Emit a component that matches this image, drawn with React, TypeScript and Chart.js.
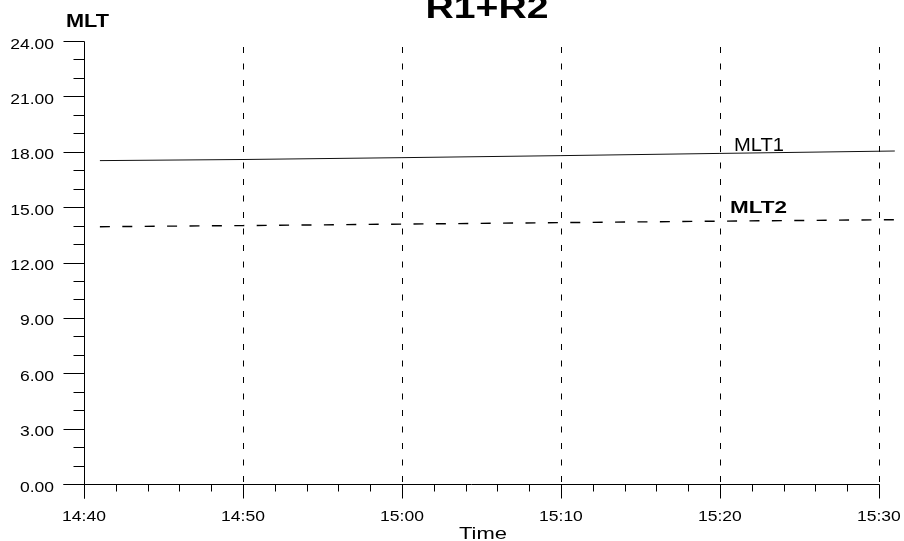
import React, { useEffect, useRef } from "react";
import { Chart, registerables } from "chart.js";

Chart.register(...registerables);

// ---- data ----
const START = "14:40";
const TIMES = ["14:41", "14:50", "15:00", "15:10", "15:20", "15:31"];
const MLT1 = [17.52, 17.58, 17.68, 17.79, 17.91, 18.04];
const MLT2 = [13.94, 14.0, 14.08, 14.16, 14.24, 14.32];
const X_TICKS = ["14:40", "14:50", "15:00", "15:10", "15:20", "15:30"];
const Y_TICKS = [0, 3, 6, 9, 12, 15, 18, 21, 24];
const TITLE = "R1+R2";
const Y_TITLE = "MLT";
const X_TITLE = "Time";

const toMin = (t: string) => {
  const [h, m] = t.split(":").map(Number);
  const [h0, m0] = START.split(":").map(Number);
  return h * 60 + m - (h0 * 60 + m0);
};

const FONT = "'Liberation Sans', Arial, sans-serif";

function drawText(
  ctx: CanvasRenderingContext2D,
  text: string,
  x: number,
  y: number,
  font: string,
  opts: { width?: number; scale?: number; align?: "left" | "center" | "right" }
) {
  ctx.save();
  ctx.font = font;
  ctx.fillStyle = "#000";
  ctx.textBaseline = "alphabetic";
  const w = ctx.measureText(text).width;
  const sx = opts.width ? opts.width / w : opts.scale ?? 1;
  const tw = w * sx;
  let left = x;
  if (opts.align === "center") left = x - tw / 2;
  else if (opts.align === "right") left = x - tw;
  ctx.translate(left, y);
  ctx.scale(sx, 1);
  ctx.textAlign = "left";
  ctx.fillText(text, 0, 0);
  ctx.restore();
}

const decorPlugin = {
  id: "decor",
  beforeDatasetsDraw(chart: any) {
    const ctx: CanvasRenderingContext2D = chart.ctx;
    const xs = chart.scales.x;
    const ys = chart.scales.y;
    const top = ys.getPixelForValue(24);
    const bottom = ys.getPixelForValue(0);
    ctx.save();
    ctx.strokeStyle = "#000";
    ctx.lineWidth = 1;
    ctx.setLineDash([6, 10.5]);
    ctx.lineDashOffset = 10.5;
    X_TICKS.forEach((t) => {
      const v = toMin(t);
      if (v === 0) return;
      const px = Math.round(xs.getPixelForValue(v)) + 0.5;
      ctx.beginPath();
      ctx.moveTo(px, top);
      ctx.lineTo(px, bottom);
      ctx.stroke();
    });
    ctx.restore();
  },
  afterDatasetsDraw(chart: any) {
    const ctx: CanvasRenderingContext2D = chart.ctx;
    const xs = chart.scales.x;
    const ys = chart.scales.y;
    const x0 = Math.round(xs.getPixelForValue(0)) + 0.5;
    const y0 = Math.round(ys.getPixelForValue(0)) + 0.5;
    const yTop = Math.round(ys.getPixelForValue(24)) + 0.5;
    const xEnd = Math.round(xs.getPixelForValue(toMin(X_TICKS[X_TICKS.length - 1]))) + 0.5;
    ctx.save();
    ctx.strokeStyle = "#000";
    ctx.lineWidth = 1;
    ctx.setLineDash([]);
    // axes
    ctx.beginPath();
    ctx.moveTo(x0, yTop);
    ctx.lineTo(x0, y0 + 14);
    ctx.moveTo(x0 - 21, y0);
    ctx.lineTo(xEnd, y0);
    ctx.stroke();
    // y ticks
    const yMin = Y_TICKS[0];
    const yMax = Y_TICKS[Y_TICKS.length - 1];
    ctx.beginPath();
    for (let v = yMin; v <= yMax; v += 1) {
      const py = Math.round(ys.getPixelForValue(v)) + 0.5;
      const major = Y_TICKS.includes(v);
      ctx.moveTo(x0 - (major ? 21 : 11), py);
      ctx.lineTo(x0, py);
    }
    // x ticks
    const xMax = toMin(X_TICKS[X_TICKS.length - 1]);
    for (let v = 0; v <= xMax; v += 2) {
      const px = Math.round(xs.getPixelForValue(v)) + 0.5;
      const major = X_TICKS.some((t) => toMin(t) === v);
      ctx.moveTo(px, y0);
      ctx.lineTo(px, y0 + (major ? 14 : 7));
    }
    ctx.stroke();
    ctx.restore();

    const tickFont = `14px ${FONT}`;
    Y_TICKS.forEach((v) => {
      const py = ys.getPixelForValue(v);
      drawText(ctx, v.toFixed(2), 54, py + 7.5, tickFont, { scale: 1.25, align: "right" });
    });
    X_TICKS.forEach((t) => {
      const px = xs.getPixelForValue(toMin(t));
      drawText(ctx, t, px, 521, tickFont, { scale: 1.25, align: "center" });
    });

    drawText(ctx, TITLE, 487, 18, `bold 31px ${FONT}`, { width: 123, align: "center" });
    drawText(ctx, Y_TITLE, 66, 27, `bold 18px ${FONT}`, { width: 43, align: "left" });
    drawText(ctx, X_TITLE, 483, 539, `17px ${FONT}`, { width: 48, align: "center" });
    drawText(ctx, "MLT1", 734, 151, `18px ${FONT}`, { width: 50, align: "left" });
    drawText(ctx, "MLT2", 730, 213, `bold 17px ${FONT}`, { width: 57, align: "left" });
  },
};

export default function App() {
  const ref = useRef<HTMLCanvasElement>(null);
  useEffect(() => {
    if (!ref.current) return;
    const chart = new Chart(ref.current, {
      type: "line",
      data: {
        datasets: [
          {
            label: "MLT1",
            data: TIMES.map((t, i) => ({ x: toMin(t), y: MLT1[i] })),
            borderColor: "#111",
            borderWidth: 1,
            pointRadius: 0,
            fill: false,
          },
          {
            label: "MLT2",
            data: TIMES.map((t, i) => ({ x: toMin(t), y: MLT2[i] })),
            borderColor: "#000",
            borderWidth: 1.4,
            borderDash: [10, 12.4],
            pointRadius: 0,
            fill: false,
          },
        ],
      },
      options: {
        responsive: false,
        animation: false,
        layout: { padding: { left: 84, top: 41, right: 6, bottom: 57 } },
        plugins: { legend: { display: false }, tooltip: { enabled: false }, title: { display: false } },
        scales: {
          x: { type: "linear", min: 0, max: 51.2, display: false },
          y: { type: "linear", min: 0, max: 24, display: false },
        },
      },
      plugins: [decorPlugin],
    });
    return () => chart.destroy();
  }, []);
  return (
    <div style={{ position: "fixed", left: 0, top: 0, width: 904, height: 541, background: "#fff" }}>
      <canvas ref={ref} width={904} height={541} style={{ display: "block" }} />
    </div>
  );
}
